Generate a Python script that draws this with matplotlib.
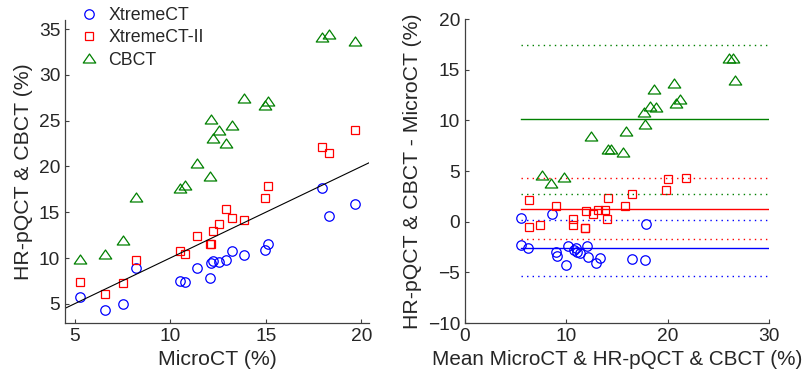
import matplotlib.pyplot as plt
import numpy as np
from matplotlib.path import Path

# Данные: MicroCT и три метода (одни и те же образцы)
micro = [5.29, 6.61, 7.55, 8.23, 10.5, 10.79, 11.4, 12.1, 12.15, 12.25,
         12.55, 12.93, 13.23, 13.84, 14.97, 15.14, 17.95, 18.33, 19.68]
xtreme = [5.69, 4.35, 4.97, 8.96, 7.5, 7.43, 8.96, 7.8, 9.4, 9.7,
          9.58, 9.83, 10.8, 10.34, 10.9, 11.54, 17.7, 14.6, 15.94]
xtreme2 = [7.4, 6.09, 7.25, 9.77, 10.78, 10.45, 12.45, 11.5, 11.56, 13.0,
           13.7, 15.3, 14.35, 14.1, 16.56, 17.87, 22.15, 21.43, 23.97]
cbct = [9.9, 10.45, 12.0, 16.7, 17.65, 18.0, 20.35, 19.0, 25.2, 23.1,
        24.0, 22.55, 24.55, 27.5, 26.7, 27.2, 34.1, 34.5, 33.7]

names = ['XtremeCT', 'XtremeCT-II', 'CBCT']
colors = ['#0000ff', '#ff0000', '#008000']

plt.rcParams['font.family'] = ['Liberation Sans', 'DejaVu Sans']
plt.rcParams['text.color'] = '#262626'
plt.rcParams['axes.labelcolor'] = '#262626'

# широкий треугольник как в MATLAB
tri = Path([(-1, -0.72), (1, -0.72), (0, 0.72), (-1, -0.72)],
           [Path.MOVETO, Path.LINETO, Path.LINETO, Path.CLOSEPOLY])
markers = [dict(marker='o', ms=6.8), dict(marker='s', ms=5.3), dict(marker=tri, ms=9)]

fig = plt.figure(figsize=(8.08, 3.88), dpi=100)
ax1 = fig.add_axes([65 / 808, 65 / 388, 304 / 808, 303 / 388])
ax2 = fig.add_axes([465 / 808, 65 / 388, 304 / 808, 304 / 388])

series = [xtreme, xtreme2, cbct]
m = np.array(micro)

# Левый график: корреляция
handles = []
for y, name, c, mk in zip(series, names, colors, markers):
    h, = ax1.plot(micro, y, linestyle='none', mfc='none', mec=c, mew=0.9,
                  label=name, **mk)
    handles.append(h)
ax1.axline((0, 0), slope=1, color='black', lw=0.8)
ax1.set_xlim(4.5, 20.4)
ax1.set_ylim(2.9, 36)
ax1.set_xticks([5, 10, 15, 20])
ax1.set_yticks([5, 10, 15, 20, 25, 30, 35])
ax1.set_xlabel('MicroCT (%)', fontsize=15.3)
ax1.set_ylabel('HR-pQCT & CBCT (%)', fontsize=15.3)

# Правый график: Бленд-Альтман
means_all = []
for y in series:
    means_all.append((m + np.array(y)) / 2)
x0 = min(v.min() for v in means_all)
for y, c, mk in zip(series, colors, markers):
    yy = np.array(y)
    mean = (m + yy) / 2
    diff = yy - m
    ax2.plot(mean, diff, linestyle='none', mfc='none', mec=c, mew=0.9, **mk)
    d = diff.mean()
    s = 1.96 * diff.std(ddof=1)
    ax2.plot([x0, 30], [d, d], color=c, lw=1)
    ax2.plot([x0, 30], [d + s, d + s], color=c, lw=1, ls=(0, (1, 3)))
    ax2.plot([x0, 30], [d - s, d - s], color=c, lw=1, ls=(0, (1, 3)))
ax2.set_xlim(0, 30)
ax2.set_ylim(-10, 20)
ax2.set_xticks([0, 10, 20, 30])
ax2.set_yticks([-10, -5, 0, 5, 10, 15, 20])
ax2.set_xlabel('Mean MicroCT & HR-pQCT & CBCT (%)', fontsize=14.9)
ax2.set_ylabel('HR-pQCT & CBCT - MicroCT (%)', fontsize=15.3)

for ax in (ax1, ax2):
    for side in ('top', 'right'):
        ax.spines[side].set_visible(False)
    for side in ('left', 'bottom'):
        ax.spines[side].set_color('#404040')
        ax.spines[side].set_linewidth(0.9)
    ax.tick_params(direction='in', length=3, width=0.8, colors='#404040',
                   labelcolor='#262626', labelsize=13.8)

fig.legend(handles=handles, loc='upper left', bbox_to_anchor=(70 / 808, 1.005),
           frameon=False, fontsize=12.8, handlelength=1.1, handletextpad=0.55,
           labelspacing=0.3, borderaxespad=0.1)

plt.savefig('out.png', dpi=100)
plt.close()
